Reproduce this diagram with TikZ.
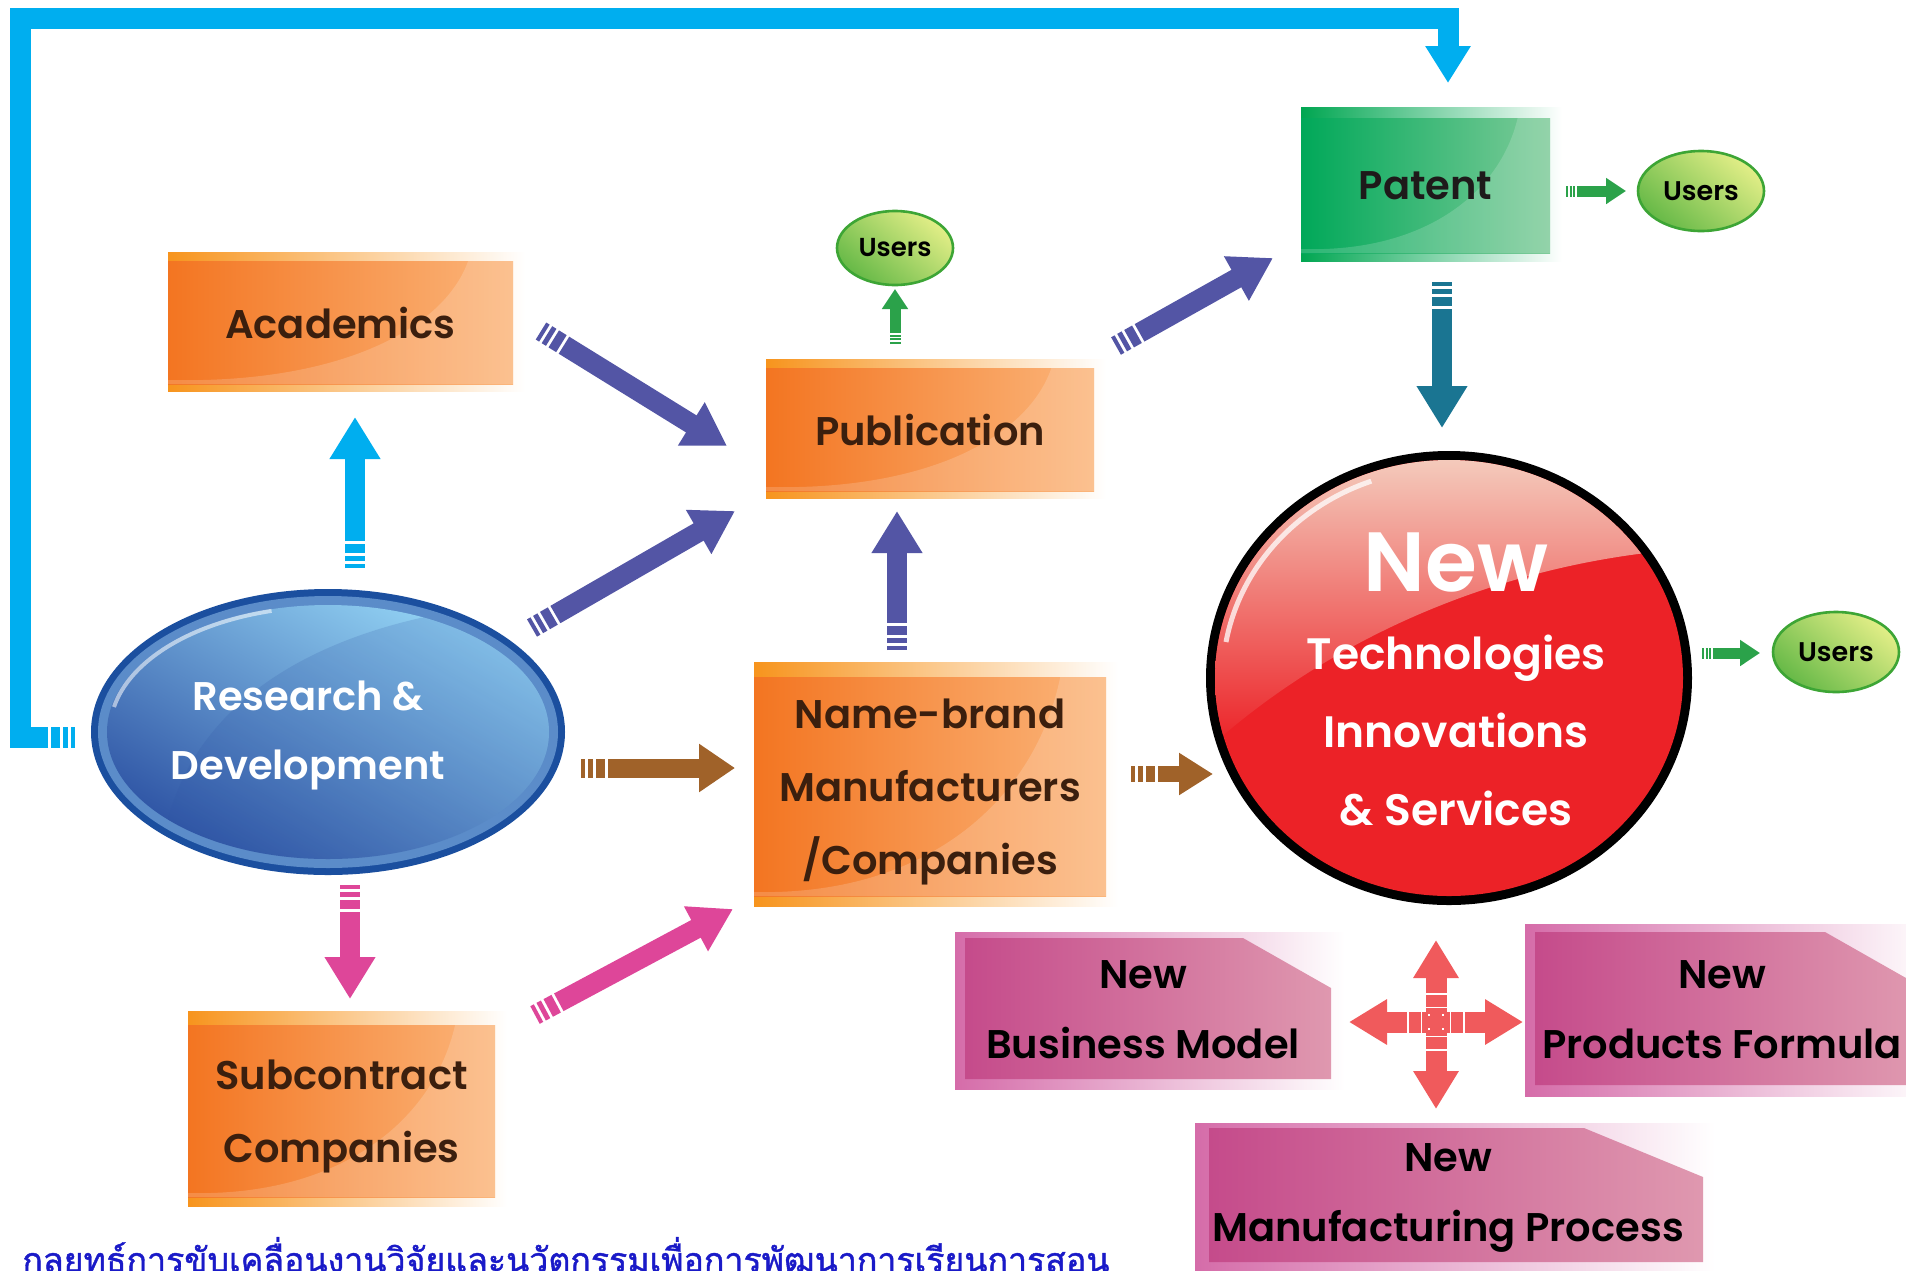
\documentclass[tikz,border=0pt]{standalone}
\usepackage{fontspec}
\usepackage{graphicx}
\setmainfont{Poppins}[BoldFont={Poppins SemiBold}]
\newfontfamily\thaifont[Script=Thai,FakeBold=1.2]{Loma}
\usetikzlibrary{arrows.meta,shapes.geometric,calc}
\definecolor{orL}{HTML}{F37521}
\definecolor{orR}{HTML}{FBB57A}
\definecolor{orS}{HTML}{F7941D}
\definecolor{orT}{HTML}{3B1F0E}
\definecolor{grL}{HTML}{00A859}
\definecolor{grR}{HTML}{7ECB99}
\definecolor{grS}{HTML}{00A651}
\definecolor{grT}{HTML}{1E1A1A}
\definecolor{pkL}{HTML}{C54B8B}
\definecolor{pkR}{HTML}{DF98AF}
\definecolor{pkS}{HTML}{D56CA9}
\definecolor{cyanA}{HTML}{00AEEF}
\definecolor{purA}{HTML}{5355A5}
\definecolor{pinkA}{HTML}{DE4699}
\definecolor{brA}{HTML}{A06229}
\definecolor{grA}{HTML}{2BA24A}
\definecolor{tealA}{HTML}{1A7592}
\definecolor{salA}{HTML}{F05A5C}
\definecolor{rdDark}{HTML}{1B4F9F}
\definecolor{rdRing}{HTML}{5B8CC9}
\definecolor{rdLight}{HTML}{93D3F4}
\definecolor{rdDeep}{HTML}{2F55A5}
\definecolor{redC}{HTML}{EC2227}
\definecolor{hlTop}{HTML}{F4CDBE}
\definecolor{usL}{HTML}{E2EE87}
\definecolor{usR}{HTML}{66B947}
\definecolor{usB}{HTML}{3DA535}
\definecolor{thaiB}{HTML}{1A1AC8}
\tikzset{
  boxlbl/.style={rectangle, inner sep=0pt, align=center, text depth=0pt, font=\bfseries\fontsize{20pt}{36.5pt}\selectfont},
  pinklbl/.style={inner sep=0pt, align=center, text=black, font=\bfseries\fontsize{20pt}{35pt}\selectfont},
  whitelbl/.style={inner sep=0pt, align=center, text=white},
  users/.style={ellipse, inner sep=0pt, draw=usB, line width=1.3pt, left color=usL, right color=usR, shading angle=-40, text=black, font=\bfseries\fontsize{13.5pt}{14pt}\selectfont},
  stripesA/.style={dash pattern=on 2pt off 1.5pt on 2.5pt off 1.5pt on 4.5pt off 1.5pt on 4000pt},
  fatarrow/.style={line width=10pt, stripesA, -{Triangle[width=24pt,length=21pt]}},
  thinarrow/.style={line width=5.5pt, dash pattern=on 1pt off 0.8pt on 1pt off 0.8pt on 1pt off 0.8pt on 4000pt, -{Triangle[width=12.5pt,length=10pt]}},
  crossarm/.style={draw=salA, line width=10.5pt, dash pattern=on 3pt off 0.8pt on 3pt off 0.8pt on 6pt off 0.8pt on 4000pt, -{Triangle[width=21.5pt,length=19pt]}},
}
\newcommand\mkhilite[4]{\fill[white,opacity=.17] (#1,{#4-4}) .. controls ({#1+0.5*(#3-#1)},#4) and ({#1+0.8*(#3-#1)},{#4-0.45*(#4-#2)}) .. ({#1+0.87*(#3-#1)},#2) -- (#3,#2) -- (#3,#4) -- (#1,#4) -- cycle;}
\newcommand\mkbox[9]{%
  \shade[left color=#8S, right color=white] (#2,#6) rectangle ({#4+12},#7);
  \shade[left color=#8L, right color=#8R] (#2,#3) rectangle (#4,#5);
  \mkhilite{#2}{#3}{#4}{#5}
  \node[boxlbl, text=#8T, minimum width={(#4-#2)*0.5pt}, minimum height={(#5-#3)*0.5pt}] (#1) at ({(#2+#4)/2},{(#3+#5)/2}) {#9};}
\begin{document}
\begin{tikzpicture}[x=0.5pt,y=-0.5pt,line join=miter]
\useasboundingbox (0,0) rectangle (1906,1270);
\clip (0,0) rectangle (1906,1270);
\fill[white] (0,0) rectangle (1906,1270);

% ---------- orange / green boxes
\mkbox{acad}{168}{261}{513}{384}{252}{391}{or}{Academics}
\mkbox{pub}{766}{368}{1094}{491}{359}{498}{or}{Publication}
\mkbox{pat}{1301}{118}{1550}{253}{107}{261}{gr}{Patent}
\mkbox{nb}{754}{677}{1106}{896}{662}{906}{or}{Name-brand\\Manufacturers\\/Companies}
\mkbox{sub}{188}{1025}{495}{1197}{1011}{1206}{or}{Subcontract\\Companies}

% ---------- pink boxes
\shade[left color=pkS, right color=white] (955,932) rectangle (1345,1089);
\shade[left color=pkL, right color=pkR] (965,938) -- (1243,938) -- (1331,988) -- (1331,1079) -- (965,1079) -- cycle;
\node[pinklbl] (bm) at (1143,1010) {New\\Business Model};
\shade[left color=pkS, right color=white] (1525,924) rectangle (1935,1096);
\shade[left color=pkL, right color=pkR] (1535,932) -- (1825,932) -- (1913,982) -- (1913,1085) -- (1535,1085) -- cycle;
\node[pinklbl] (pf) at (1722,1010) {New\\Products Formula};
\shade[left color=pkS, right color=white] (1195,1123) rectangle (1715,1280);
\shade[left color=pkL, right color=pkR] (1209,1128) -- (1584,1128) -- (1703,1177) -- (1703,1262) -- (1209,1262) -- cycle;
\node[pinklbl] (mp) at (1448,1198) {New\\Manufacturing Process};

% ---------- Research & Development ellipse
\node[ellipse, inner sep=0pt, minimum width=237pt, minimum height=143pt, fill=rdDark] (rd) at (328,732) {};
\fill[rdRing] (rd.center) ellipse [x radius=230, y radius=136];
\shade[left color=rdLight, right color=rdDeep, shading angle=-30] (rd.center) ellipse [x radius=221, y radius=127];
\begin{scope}
  \clip (rd.center) ellipse [x radius=221, y radius=127];
  \fill[rdDeep, opacity=.18] (160,870) .. controls (170,700) and (330,610) .. (560,600) -- (560,870) -- cycle;
\end{scope}
\draw[white, opacity=.55, line width=2pt] (rd.center) ++(-214,-25) arc [start angle=191, end angle=255, x radius=218, y radius=124];
\node[whitelbl, font=\bfseries\fontsize{20pt}{34.5pt}\selectfont] (rdtext) at (308,735) {Research \&\\Development};

% ---------- New circle
\node[ellipse, inner sep=0pt, minimum width=243pt, minimum height=227pt, fill=black] (newc) at (1449,678) {};
\fill[redC] (newc.center) ellipse [x radius=234, y radius=218];
\begin{scope}
  \clip (newc.center) ellipse [x radius=234, y radius=218];
  \shade[top color=hlTop, bottom color=redC] (1200,455) -- (1700,455) -- (1700,548) .. controls (1500,560) and (1330,640) .. (1212,745) -- cycle;
\end{scope}
\draw[white, opacity=.75, line width=2.5pt] (1226,642) arc [start angle=190, end angle=250, x radius=226, y radius=210];
\node[whitelbl, font=\bfseries\fontsize{42pt}{42pt}\selectfont] (newt) at (1456,563) {New};
\node[whitelbl, font=\bfseries\fontsize{22pt}{39pt}\selectfont] (techt) at (1456,731) {Technologies\\Innovations\\\& Services};

% ---------- Users
\node[users, minimum width=58pt, minimum height=37pt, font=\bfseries\fontsize{13pt}{14pt}\selectfont] (u1) at (895,248) {Users};
\node[users, minimum width=63pt, minimum height=40pt] (u2) at (1701,191) {Users};
\node[users, minimum width=63pt, minimum height=40pt] (u3) at (1836,652) {Users};

% ---------- connector end points
\coordinate (fb-s) at (75,737);
\coordinate (fb-e) at (1448,83);
\coordinate (rdac-s) at (355,568);   \coordinate (rdac-e) at (355,417);
\coordinate (acpub-s) at (541,331);  \coordinate (acpub-e) at (727,446);
\coordinate (rdpub-s) at (532,628);  \coordinate (rdpub-e) at (735,511);
\coordinate (nbpub-s) at (897,650);  \coordinate (nbpub-e) at (897,511);
\coordinate (pubpat-s) at (1116,346);\coordinate (pubpat-e) at (1273,258);
\coordinate (pubu-s) at (895,344);   \coordinate (pubu-e) at (895,289);
\coordinate (patu-s) at (1566,191);  \coordinate (patu-e) at (1626,191);
\coordinate (newu-s) at (1702,653);  \coordinate (newu-e) at (1760,653);
\coordinate (patnew-s) at (1442,282);\coordinate (patnew-e) at (1442,428);
\coordinate (rdnb-s) at (581,768);   \coordinate (rdnb-e) at (735,768);
\coordinate (nbnew-s) at (1131,774); \coordinate (nbnew-e) at (1213,774);
\coordinate (rdsub-s) at (350,885);  \coordinate (rdsub-e) at (350,999);
\coordinate (subnb-s) at (535,1015); \coordinate (subnb-e) at (733,909);
\coordinate (xc) at (1436,1022);
\coordinate (xu) at (1436,940); \coordinate (xd) at (1436,1109);
\coordinate (xl) at (1349,1022); \coordinate (xr) at (1523,1022);

% ---------- connectors
\draw[draw=cyanA, line width=10.5pt, stripesA, -{Triangle[width=21.5pt,length=18.5pt]}] (fb-s) -- (20,737) -- (20,18) -- (1448,18) -- (fb-e);
\draw[fatarrow, draw=cyanA] (rdac-s) -- (rdac-e);
\draw[fatarrow, draw=purA] (acpub-s) -- (acpub-e);
\draw[fatarrow, draw=purA] (rdpub-s) -- (rdpub-e);
\draw[fatarrow, draw=purA] (nbpub-s) -- (nbpub-e);
\draw[fatarrow, draw=purA] (pubpat-s) -- (pubpat-e);
\draw[fatarrow, draw=tealA] (patnew-s) -- (patnew-e);
\draw[thinarrow, draw=grA] (pubu-s) -- (pubu-e);
\draw[thinarrow, draw=grA] (patu-s) -- (patu-e);
\draw[thinarrow, draw=grA] (newu-s) -- (newu-e);
\draw[fatarrow, draw=brA, line width=9.5pt, -{Triangle[width=23pt,length=18pt]}] (rdnb-s) -- (rdnb-e);
\draw[fatarrow, draw=brA, line width=8pt, -{Triangle[width=20pt,length=17pt]}] (nbnew-s) -- (nbnew-e);
\draw[fatarrow, draw=pinkA] (rdsub-s) -- (rdsub-e);
\draw[fatarrow, draw=pinkA] (subnb-s) -- (subnb-e);
\draw[crossarm] (xc) -- (xu);
\draw[crossarm] (xc) -- (xd);
\draw[crossarm] (xc) -- (xl);
\draw[crossarm] (xc) -- (xr);

% ---------- Thai caption
\node[anchor=base west, inner sep=0pt, text=thaiB] (thai) at (22,1272) {\resizebox{543.5pt}{!}{\thaifont\fontsize{18pt}{20pt}\selectfont กลยุทธ์การขับเคลื่อนงานวิจัยและนวัตกรรมเพื่อการพัฒนาการเรียนการสอน}};
\end{tikzpicture}
\end{document}
